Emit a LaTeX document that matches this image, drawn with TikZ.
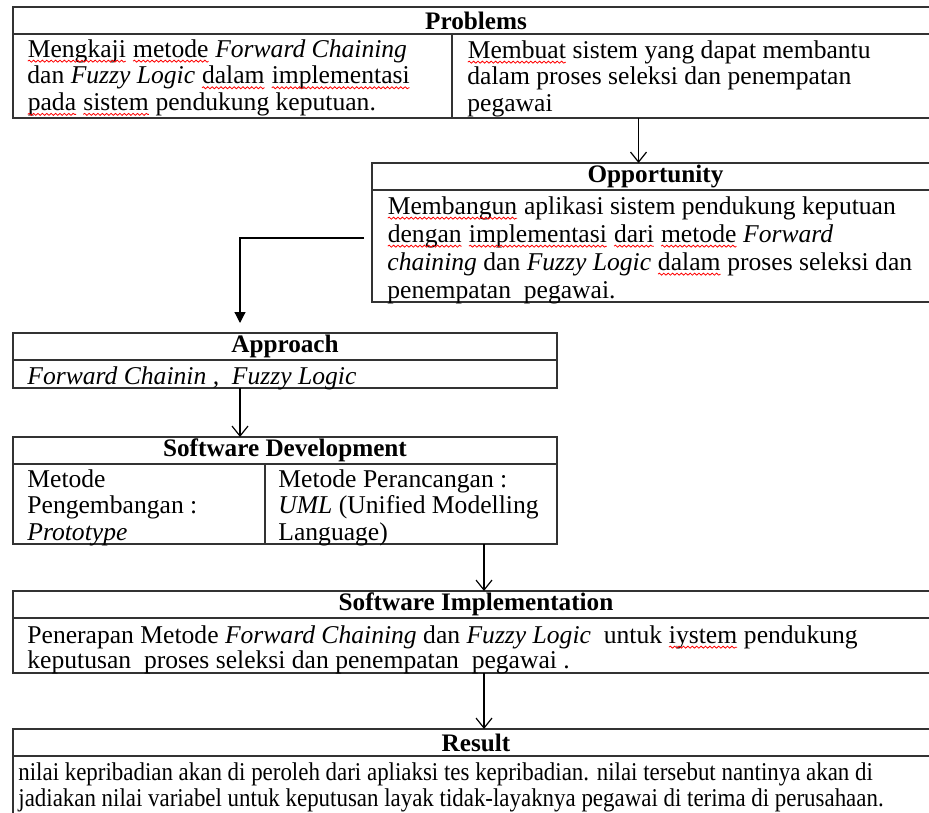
\documentclass[tikz,border=0pt]{standalone}
\usepackage{fontspec}
\setmainfont{Liberation Serif}
\newfontfamily\narrowserif[FakeStretch=0.895]{Liberation Serif}
\usetikzlibrary{arrows.meta,decorations.pathmorphing}
\definecolor{rulegrey}{gray}{0.2}
\newcommand{\typo}[1]{\tikz[baseline=(w.base)]{\node[anchor=base,inner sep=0pt,outer sep=0pt,draw=none,align=left] (w) {#1};
    \draw[red,line width=0.4pt,decorate,decoration={snake,amplitude=0.5pt,segment length=2.2pt}] ([yshift=-2pt]w.base west) -- ([yshift=-2pt]w.base east);}}
\tikzset{
    stage/.style={draw=rulegrey,line width=1.1pt,inner sep=0pt,outer sep=0pt,anchor=north west},
    stage line/.style={draw=rulegrey,line width=1.1pt},
    head/.style={inner sep=0pt,font=\bfseries\fontsize{12.6}{14}\selectfont},
    body/.style={anchor=north west,align=left,inner sep=0pt,font=\fontsize{12.8}{13.3}\selectfont},
    flow/.style={line width=0.6pt,-{Straight Barb[length=5pt,width=8pt]}},
    flowfill/.style={line width=0.6pt,-{Triangle[length=5.5pt,width=5.5pt]},shorten >=5pt}
}
\newcommand{\stagebox}[5]{
    \node[stage,minimum width=#3,minimum height=#4] (#1) at (#2) {};
    \draw[stage line] ([yshift=-13.5pt]#1.north west) -- ([yshift=-13.5pt]#1.north east);
    \node[head] (#1 title) at ([yshift=-6.9pt]#1.north) {#5};
}

\begin{document}
\begin{tikzpicture}[x=0.5pt,y=-0.5pt]
        \useasboundingbox (0,0) rectangle (929,812);
        \clip (0,0) rectangle (929,812);

        \stagebox{prob}{13,7}{463pt}{55.5pt}{Problems}
        \draw[stage line] (452,34) -- (452,118);
        \node[body] (prob left) at (27,39) {\typo{Mengkaji} \typo{metode} \emph{Forward Chaining}\\
            dan \emph{Fuzzy Logic} \typo{dalam} \typo{implementasi}\\
            \typo{pada} \typo{sistem} pendukung keputuan.};
        \node[body] (prob right) at (467,40) {\typo{Membuat} sistem yang dapat membantu\\
            dalam proses seleksi dan penempatan\\
            pegawai};

        \stagebox{opp}{372,163}{283.5pt}{69.5pt}{Opportunity}
        \node[body,font=\fontsize{12.8}{14}\selectfont] (opp text) at (387,196) {\typo{Membangun} aplikasi sistem pendukung keputuan\\
            \typo{dengan} \typo{implementasi} \typo{dari} \typo{metode} \emph{Forward}\\
            \emph{chaining} dan \emph{Fuzzy Logic} \typo{dalam} proses seleksi dan\\
            penempatan\ \ pegawai.};

        \stagebox{appr}{13,333}{272pt}{27.5pt}{Approach}
        \node[body] (appr text) at (27,366) {\emph{Forward Chainin ,\ \ Fuzzy Logic}};

        \stagebox{dev}{13,437}{272pt}{53.5pt}{Software Development}
        \draw[stage line] (265,464) -- (265,544);
        \node[body] (dev left) at (27,469) {Metode\\ Pengembangan :\\ \emph{Prototype}};
        \node[body] (dev right) at (278,469) {Metode Perancangan :\\ \emph{UML} (Unified Modelling\\ Language)};

        \stagebox{impl}{13,591}{463pt}{41pt}{Software Implementation}
        \node[body,font=\fontsize{12.8}{12.6}\selectfont] (impl text) at (27,625) {Penerapan Metode \emph{Forward Chaining} dan \emph{Fuzzy Logic}\ \ untuk \typo{iystem} pendukung\\
            keputusan\ \ proses seleksi dan penempatan\ \ pegawai .};

        \stagebox{res}{13,729}{463pt}{60pt}{Result}
        \node[body,font=\narrowserif\fontsize{12.8}{13}\selectfont] (res text) at (18,762) {nilai kepribadian akan di peroleh dari apliaksi tes kepribadian. nilai tersebut nantinya akan di\\
            jadiakan nilai variabel untuk keputusan layak tidak-layaknya pegawai di terima di perusahaan.};

        \coordinate (drop1) at ([xshift=-8.5pt]opp.north);
        \draw[flow] (drop1 |- prob.south) -- (drop1);
        \coordinate (drop2) at ([xshift=-22.5pt]appr.north);
        \draw[flowfill] ([xshift=-4pt,yshift=-2.75pt]opp.west) -| (drop2);
        \draw[flow] (drop2 |- appr.south) -- (drop2 |- dev.north);
        \coordinate (drop3) at ([xshift=4pt]impl.north);
        \draw[flow] (drop3 |- dev.south) -- (drop3);
        \draw[flow] ([xshift=4pt]impl.south) -- ([xshift=4pt]res.north);
\end{tikzpicture}
\end{document}
